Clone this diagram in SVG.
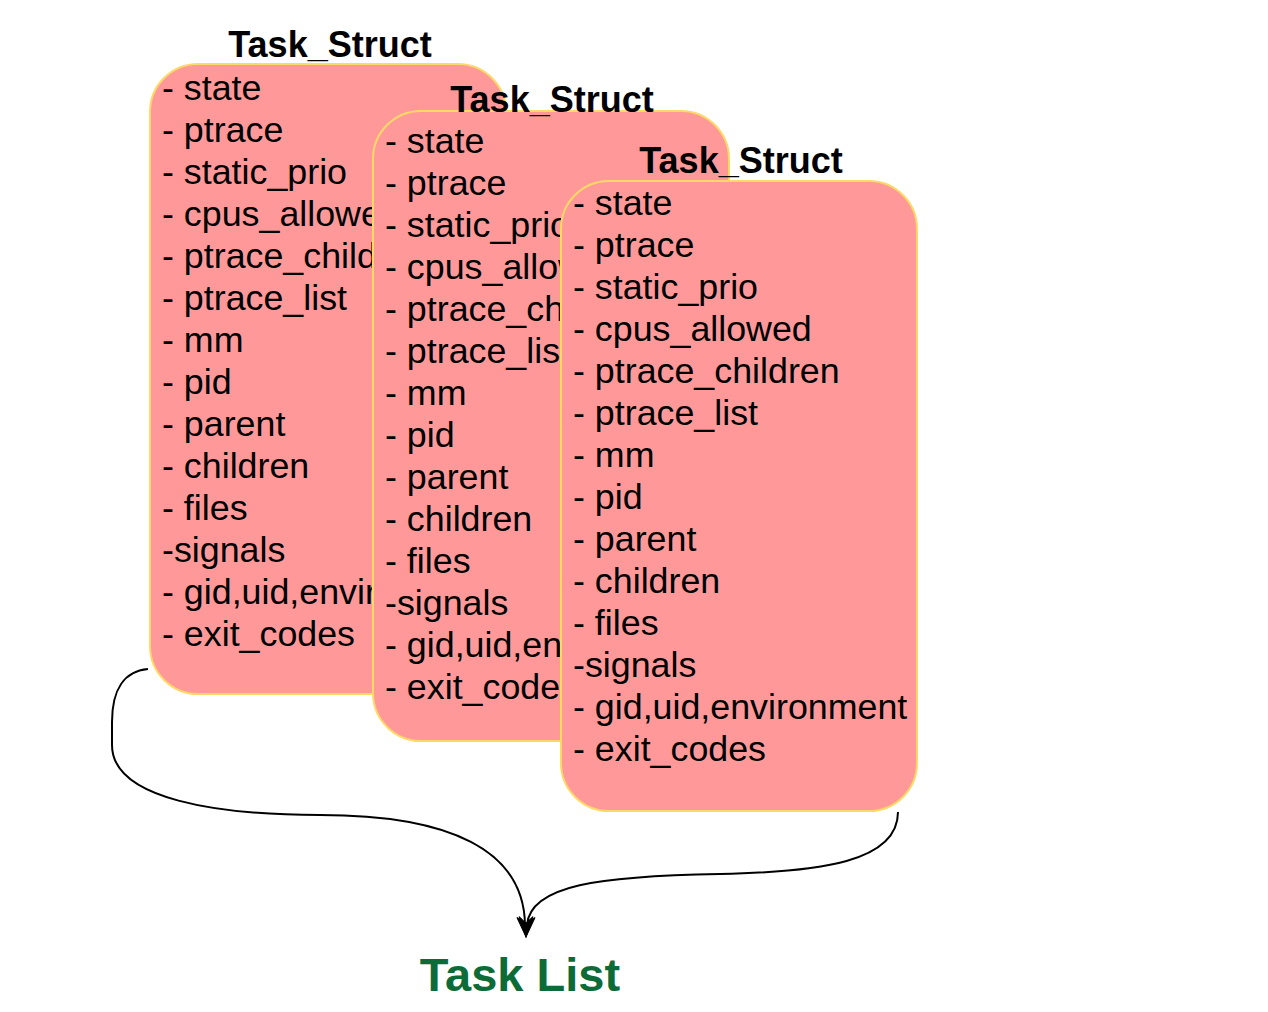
<svg xmlns="http://www.w3.org/2000/svg" width="1268" height="1012" viewBox="0 0 1268 1012">
<style>
.box{fill:#FF9999;stroke:#FFD966;stroke-width:2}
.t{font-family:"Liberation Sans",Arial,Helvetica,sans-serif;font-size:35.8px;fill:#000}
.title{font-family:"Liberation Sans",Arial,Helvetica,sans-serif;font-size:36px;font-weight:bold;fill:#000;text-anchor:middle}
.edge{fill:none;stroke:#000;stroke-width:2}
.head{fill:#000;stroke:#000;stroke-width:1}
.lbl{font-family:"Liberation Sans",Arial,Helvetica,sans-serif;font-size:47px;font-weight:bold;fill:#0d6b37;text-anchor:middle}
</style>
<defs>
<path id="ah" d="M-8,-20 L0,0 L8,-20 L0,-13 Z"/>
</defs>
<rect width="1268" height="1012" fill="#fff"/>
<g id="task1">
<rect class="box" x="150" y="64" width="356" height="630" rx="48" ry="48"/>
<text class="title" x="330" y="57">Task_Struct</text>
<text class="t" x="162" y="100">- state</text>
<text class="t" x="162" y="142">- ptrace</text>
<text class="t" x="162" y="184">- static_prio</text>
<text class="t" x="162" y="226">- cpus_allowed</text>
<text class="t" x="162" y="268">- ptrace_children</text>
<text class="t" x="162" y="310">- ptrace_list</text>
<text class="t" x="162" y="352">- mm</text>
<text class="t" x="162" y="394">- pid</text>
<text class="t" x="162" y="436">- parent</text>
<text class="t" x="162" y="478">- children</text>
<text class="t" x="162" y="520">- files</text>
<text class="t" x="162" y="562">-signals</text>
<text class="t" x="162" y="604">- gid,uid,environment</text>
<text class="t" x="162" y="646">- exit_codes</text>
</g>
<g id="task2">
<rect class="box" x="373" y="111" width="356" height="630" rx="48" ry="48"/>
<text class="title" x="552" y="112">Task_Struct</text>
<text class="t" x="385" y="153">- state</text>
<text class="t" x="385" y="195">- ptrace</text>
<text class="t" x="385" y="237">- static_prio</text>
<text class="t" x="385" y="279">- cpus_allowed</text>
<text class="t" x="385" y="321">- ptrace_children</text>
<text class="t" x="385" y="363">- ptrace_list</text>
<text class="t" x="385" y="405">- mm</text>
<text class="t" x="385" y="447">- pid</text>
<text class="t" x="385" y="489">- parent</text>
<text class="t" x="385" y="531">- children</text>
<text class="t" x="385" y="573">- files</text>
<text class="t" x="385" y="615">-signals</text>
<text class="t" x="385" y="657">- gid,uid,environment</text>
<text class="t" x="385" y="699">- exit_codes</text>
</g>
<g id="task3">
<rect class="box" x="561" y="181" width="356" height="630" rx="48" ry="48"/>
<text class="title" x="741" y="173">Task_Struct</text>
<text class="t" x="573" y="215">- state</text>
<text class="t" x="573" y="257">- ptrace</text>
<text class="t" x="573" y="299">- static_prio</text>
<text class="t" x="573" y="341">- cpus_allowed</text>
<text class="t" x="573" y="383">- ptrace_children</text>
<text class="t" x="573" y="425">- ptrace_list</text>
<text class="t" x="573" y="467">- mm</text>
<text class="t" x="573" y="509">- pid</text>
<text class="t" x="573" y="551">- parent</text>
<text class="t" x="573" y="593">- children</text>
<text class="t" x="573" y="635">- files</text>
<text class="t" x="573" y="677">-signals</text>
<text class="t" x="573" y="719">- gid,uid,environment</text>
<text class="t" x="573" y="761">- exit_codes</text>
</g>
<g id="connectors">
<path class="edge" d="M148,669 C124,671 112,690 112,722 L112,745 C112,800 220,815 320,815 C450,815 524,850 525,925"/>
<path class="edge" d="M898,812 C898,862 820,872 720,874 C600,876 530,885 527,925"/>
<use href="#ah" class="head" transform="translate(526,937) rotate(-3)"/>
<use href="#ah" class="head" transform="translate(526,937) rotate(3)"/>
</g>
<g id="tasklist">
<text class="lbl" x="520" y="991">Task List</text>
</g>
</svg>
